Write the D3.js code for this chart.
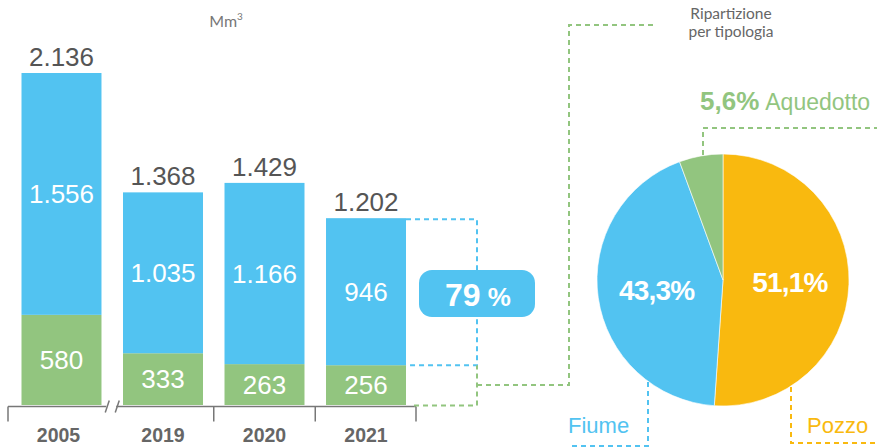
<!DOCTYPE html>
<html>
<head>
<meta charset="utf-8">
<script src="https://cdn.jsdelivr.net/npm/d3@7"></script>
<style>
  html, body { margin: 0; padding: 0; background: #fff; }
  svg { display: block; }
</style>
</head>
<body>
<svg id="chart" width="887" height="447"></svg>
<script>
// ---- DATA ----
const years = ["2005", "2019", "2020", "2021"];
const acquedotto = [580, 333, 263, 256];     // green (bottom)
const fiumePozzo = [1556, 1035, 1166, 946];  // blue (top)
const totals = [2136, 1368, 1429, 1202];
const shareLabel = "79 %";
const pieCategories = ["Pozzo", "Fiume", "Aquedotto"];
const pieValues = [51.1, 43.3, 5.6];
const unitLabel = "Mm";
const pieTitle = ["Ripartizione", "per tipologia"];

// ---- STYLE ----
const BLUE = "#52C3F1", GREEN = "#92C57F", ORANGE = "#F9B90F";
const NUM_FONT = "'Liberation Sans', Arial, Helvetica, sans-serif";
const LIGHT_FONT = "Lato, 'Open Sans', sans-serif";

const it = d3.formatLocale({decimal: ",", thousands: ".", grouping: [3], currency: ["€", ""]});
const fmtInt = it.format(",d");
const fmtPct = it.format(".1f");

const svg = d3.select("#chart");

// ---- SCALES ----
const x = d3.scaleBand().domain(years).range([8, 419.5]).paddingInner(0.212).paddingOuter(0.133);
const y = d3.scaleLinear().domain([0, 2136]).range([405, 73]);
const bw = x.bandwidth();
const gap = x.step() - bw;

const rows = years.map((yr, i) => ({yr, g: acquedotto[i], b: fiumePozzo[i], t: totals[i]}));

// ---- BARS ----
const bars = svg.append("g");
bars.selectAll("rect.g").data(rows).join("rect")
  .attr("x", d => x(d.yr)).attr("width", bw)
  .attr("y", d => y(d.g)).attr("height", d => y(0) - y(d.g))
  .attr("fill", GREEN);
bars.selectAll("rect.b").data(rows).join("rect")
  .attr("x", d => x(d.yr)).attr("width", bw)
  .attr("y", d => y(d.t)).attr("height", d => y(d.g) - y(d.t))
  .attr("fill", BLUE);

// labels
bars.selectAll("text.tot").data(rows).join("text")
  .attr("x", d => x(d.yr) + bw / 2).attr("y", d => y(d.t) - 7)
  .attr("text-anchor", "middle").attr("font-family", NUM_FONT).attr("font-size", 26)
  .attr("fill", "#555").text(d => fmtInt(d.t));
bars.selectAll("text.bv").data(rows).join("text")
  .attr("x", d => x(d.yr) + bw / 2).attr("y", d => (y(d.t) + y(d.g)) / 2 + 9)
  .attr("text-anchor", "middle").attr("font-family", NUM_FONT).attr("font-size", 26)
  .attr("fill", "#fff").text(d => fmtInt(d.b));
bars.selectAll("text.gv").data(rows).join("text")
  .attr("x", d => x(d.yr) + bw / 2).attr("y", d => (y(d.g) + y(0)) / 2 + 9)
  .attr("text-anchor", "middle").attr("font-family", NUM_FONT).attr("font-size", 26)
  .attr("fill", "#fff").text(d => fmtInt(d.g));

// ---- AXIS ----
const ax = svg.append("g").attr("stroke", "#777").attr("stroke-width", 1.5).attr("fill", "none");
const axY = y(0) + 1.5;
const left = 8, right = 416;
const breakX = x(years[0]) + bw + gap / 2;
ax.append("line").attr("x1", left).attr("x2", breakX - 6).attr("y1", axY).attr("y2", axY);
ax.append("line").attr("x1", breakX + 4).attr("x2", right).attr("y1", axY).attr("y2", axY);
[-5, 5].forEach(o => {
  ax.append("line").attr("x1", breakX + o - 2).attr("x2", breakX + o + 2)
    .attr("y1", axY + 6).attr("y2", axY - 6);
});
const tickXs = [left, right].concat(years.slice(1, -1).map(yr => x(yr) + bw + gap / 2));
tickXs.forEach(tx => {
  ax.append("line").attr("x1", tx).attr("x2", tx).attr("y1", axY).attr("y2", axY + 15);
});
svg.append("g").selectAll("text").data(years).join("text")
  .attr("x", d => x(d) + bw / 2 + (d === "2005" ? -3 : 0)).attr("y", 442)
  .attr("text-anchor", "middle").attr("font-family", NUM_FONT).attr("font-weight", "bold")
  .attr("font-size", 19.5).attr("fill", "#666").text(d => d);

// unit label
const ut = svg.append("text").attr("x", 226).attr("y", 27).attr("text-anchor", "middle")
  .attr("font-family", LIGHT_FONT).attr("font-size", 16).attr("fill", "#777");
ut.append("tspan").text(unitLabel);
ut.append("tspan").attr("font-size", 10).attr("dy", -7).text("3");

// ---- DASHED CONNECTORS ----
const last = rows[rows.length - 1];
const barRight = x(last.yr) + bw;
const connX = 477;
const dash = "5,4";
svg.append("path")
  .attr("d", `M${barRight},${y(last.t) + 1}H${connX}V${y(last.g)}H${barRight}`)
  .attr("fill", "none").attr("stroke", BLUE).attr("stroke-width", 2).attr("stroke-dasharray", dash);
svg.append("path")
  .attr("d", `M${right - 2},${axY - 1}H${connX}V${y(last.g)}M${connX},385H569V25H655`)
  .attr("fill", "none").attr("stroke", GREEN).attr("stroke-width", 2).attr("stroke-dasharray", dash);

// 79% box
svg.append("rect").attr("x", 419).attr("y", 270).attr("width", 116).attr("height", 47)
  .attr("rx", 13).attr("fill", BLUE);
const pt = svg.append("text").attr("x", 478).attr("y", 306).attr("text-anchor", "middle")
  .attr("font-family", NUM_FONT).attr("font-weight", "bold").attr("fill", "#fff");
pt.append("tspan").attr("font-size", 32).text(shareLabel.split(" ")[0]);
pt.append("tspan").attr("font-size", 26).text(" " + shareLabel.split(" ")[1]);

// ---- PIE ----
const cx = 723, cy = 280, R = 126;
const pieColors = [ORANGE, BLUE, GREEN];
const pie = d3.pie().sort(null).value(d => d)(pieValues);
const arc = d3.arc().innerRadius(0).outerRadius(R);
const lblArc = d3.arc().innerRadius(67).outerRadius(67);
const pg = svg.append("g").attr("transform", `translate(${cx},${cy})`);
pg.selectAll("path").data(pie).join("path")
  .attr("d", arc).attr("fill", (d, i) => pieColors[i])
  .attr("stroke", "#fff").attr("stroke-width", 0.6);
pg.selectAll("text").data(pie.slice(0, 2)).join("text")
  .attr("transform", d => `translate(${lblArc.centroid(d)})`)
  .attr("dy", "0.36em").attr("text-anchor", "middle")
  .attr("font-family", NUM_FONT).attr("font-weight", "bold").attr("font-size", 28)
  .attr("letter-spacing", -0.8).attr("fill", "#fff")
  .text(d => fmtPct(d.data) + "%");

// pie title
svg.append("g").selectAll("text").data(pieTitle).join("text")
  .attr("x", 731).attr("y", (d, i) => 19 + i * 18).attr("text-anchor", "middle")
  .attr("font-family", LIGHT_FONT).attr("font-size", 15.5)
  .attr("fill", "#666").text(d => d);

// Aquedotto callout
svg.append("path").attr("d", "M703,155V128H877")
  .attr("fill", "none").attr("stroke", GREEN).attr("stroke-width", 2).attr("stroke-dasharray", dash);
const aq = svg.append("text").attr("x", 700).attr("y", 110).attr("fill", GREEN)
  .attr("font-family", NUM_FONT);
aq.append("tspan").attr("font-weight", "bold").attr("font-size", 26).text(fmtPct(pieValues[2]) + "%");
aq.append("tspan").attr("font-size", 23).attr("dx", 6).text(pieCategories[2]);

// Fiume callout
svg.append("path").attr("d", "M648,382V446H568")
  .attr("fill", "none").attr("stroke", BLUE).attr("stroke-width", 2).attr("stroke-dasharray", dash);
svg.append("text").attr("x", 568).attr("y", 433).attr("fill", BLUE)
  .attr("font-family", NUM_FONT).attr("font-size", 22).text(pieCategories[1]);

// Pozzo callout
svg.append("path").attr("d", "M791,387V443H875")
  .attr("fill", "none").attr("stroke", ORANGE).attr("stroke-width", 2).attr("stroke-dasharray", dash);
svg.append("text").attr("x", 807).attr("y", 433).attr("fill", ORANGE)
  .attr("font-family", NUM_FONT).attr("font-size", 22).text(pieCategories[0]);
</script>
</body>
</html>
